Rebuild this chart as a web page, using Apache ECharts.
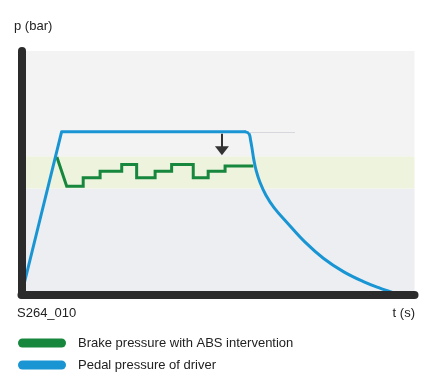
<!DOCTYPE html>
<html>
<head>
<meta charset="utf-8">
<script src="https://cdn.jsdelivr.net/npm/echarts@6/dist/echarts.min.js"></script>
<style>
html,body{margin:0;padding:0;background:#fff;}
#chart{width:438px;height:381px;}
</style>
</head>
<body>
<div id="chart"></div>
<script>
// ---- data (time in s, pressure in bar) ----
var seriesNames = ['Brake pressure with ABS intervention', 'Pedal pressure of driver'];
var tPedalRise = [0, 1.02, 5.70];
var pPedalRise = [0, 66.8, 66.8];
var tPedalFall = [5.70, 5.79, 5.83, 5.87, 5.91, 5.97, 6.07, 6.22, 6.43, 6.76, 7.21, 7.68, 8.19, 8.70, 9.12, 9.38, 9.58];
var pPedalFall = [66.8, 66.0, 63.3, 59.6, 55.5, 51.0, 46.0, 40.8, 35.6, 29.5, 21.6, 14.9, 9.4, 5.3, 2.6, 1.2, 0];
var tBrake = [0.90, 1.15, 1.57, 1.57, 2.00, 2.00, 2.55, 2.55, 2.93, 2.93, 3.40, 3.40, 3.82, 3.82, 4.37, 4.37, 4.75, 4.75, 5.18, 5.18, 5.90];
var pBrake = [56.5, 44.5, 44.5, 47.9, 47.9, 50.6, 50.6, 53.4, 53.4, 47.9, 47.9, 50.6, 50.6, 53.4, 53.4, 47.9, 47.9, 50.6, 50.6, 52.8, 52.8];
var bandLimits = [0, 43.5, 56.8, 100];      // background bands (bar)
var arrowT = 5.10, arrowFrom = 66.0, arrowTo = 59.0;
var refLine = [5.80, 6.96, 66.8];            // faint continuation of the pedal plateau
var xLabel = 't (s)', yLabel = 'p (bar)', figId = 'S264_010';

function pairs(ts, ps){ return ts.map(function(t,i){ return [t, ps[i]]; }); }

var GREEN = '#16873c', BLUE = '#1a95d3', DARK = '#2b2b2b';
var FONT = 'Liberation Sans';
var pill = 'path://M4.5,0 H43.5 A4.5,4.5 0 0 1 43.5,9 H4.5 A4.5,4.5 0 0 1 4.5,0 Z';
var TXT = {fontSize:13, fontWeight:'normal', color:'#222', fontFamily:FONT};

var chart = echarts.init(document.getElementById('chart'), null, {renderer:'canvas'});
chart.setOption({
  animation: false,
  backgroundColor: '#ffffff',
  title: [
    {text: yLabel, left: 14, top: 20, padding: 0, textStyle: TXT},
    {text: figId, left: 17, top: 307, padding: 0, textStyle: TXT},
    {text: xLabel, right: 23, top: 307, padding: 0, textStyle: TXT}
  ],
  legend: {
    orient: 'vertical', left: 18, top: 336.5, padding: 0, itemWidth: 48, itemHeight: 9, itemGap: 9,
    icon: pill,
    data: seriesNames,
    textStyle: {fontSize: 13, color: '#222', fontFamily: FONT, padding: [0,0,0,7]}
  },
  grid: {left: 21.5, right: 23.5, top: 51, bottom: 86.5},
  xAxis: {
    type: 'value', min: 0, max: 10, z: 5,
    axisLine: {show: true, lineStyle: {color: DARK, width: 8, cap: 'round'}},
    axisTick: {show: false}, axisLabel: {show: false}, splitLine: {show: false}
  },
  yAxis: {
    type: 'value', min: 0, max: 100, z: 5,
    axisLine: {show: true, lineStyle: {color: DARK, width: 8, cap: 'round'}},
    axisTick: {show: false}, axisLabel: {show: false}, splitLine: {show: false}
  },
  series: [
    {
      name: seriesNames[0], type: 'line', data: pairs(tBrake, pBrake), showSymbol: false, z: 2,
      lineStyle: {color: GREEN, width: 3, join: 'miter'}, itemStyle: {color: GREEN},
      markArea: {
        silent: true,
        data: [
          [{yAxis: bandLimits[0], itemStyle:{color:'#eceef2'}}, {yAxis: bandLimits[1]}],
          [{yAxis: bandLimits[1], itemStyle:{color:'#eef3de'}}, {yAxis: bandLimits[2]}],
          [{yAxis: bandLimits[2], itemStyle:{color:'#f3f3f4'}}, {yAxis: bandLimits[3]}]
        ]
      }
    },
    {
      name: seriesNames[1], type: 'line', data: pairs(tPedalRise, pPedalRise), showSymbol: false, z: 3,
      lineStyle: {color: BLUE, width: 3, join: 'round'}, itemStyle: {color: BLUE},
      markLine: {
        silent: true, symbol: ['none', 'none'], label: {show: false},
        lineStyle: {color: '#d6d8de', width: 1, type: 'solid'},
        data: [[{coord: [refLine[0], refLine[2]]}, {coord: [refLine[1], refLine[2]]}]]
      }
    },
    {
      name: seriesNames[1], type: 'line', data: pairs(tPedalFall, pPedalFall), showSymbol: false, z: 3,
      smooth: 0.4,
      lineStyle: {color: BLUE, width: 3, join: 'round', cap: 'round'}, itemStyle: {color: BLUE},
      markLine: {
        silent: true, symbol: ['none', 'triangle'], symbolSize: [1, 12], label: {show: false},
        lineStyle: {color: '#333333', width: 2, type: 'solid'},
        itemStyle: {color: '#333333'},
        data: [[{coord: [arrowT, arrowFrom], symbol: 'none'},
                {coord: [arrowT, arrowTo], symbol: 'triangle', symbolSize: [14, 9]}]]
      }
    }
  ]
});
</script>
</body>
</html>
